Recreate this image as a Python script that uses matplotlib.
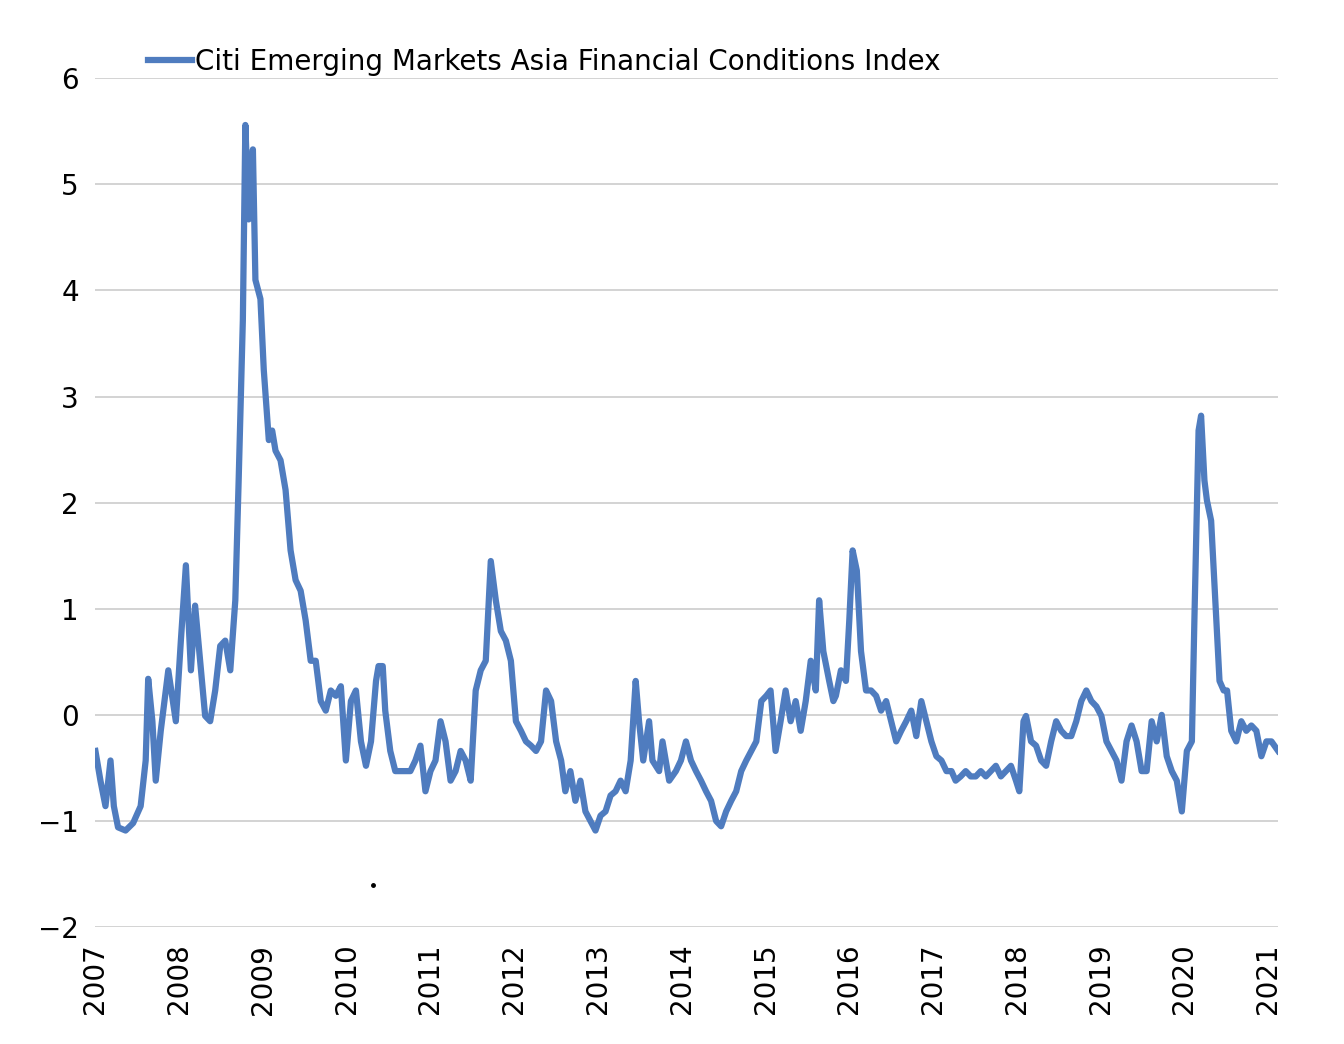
import matplotlib.pyplot as plt

years = [2007.00, 2007.06, 2007.12, 2007.18, 2007.22, 2007.27, 2007.36, 2007.45, 2007.54, 2007.60,
         2007.63, 2007.68, 2007.72, 2007.78, 2007.87, 2007.96, 2008.02, 2008.08, 2008.14, 2008.19,
         2008.25, 2008.31, 2008.37, 2008.43, 2008.49, 2008.55, 2008.61, 2008.67, 2008.71, 2008.76,
         2008.79, 2008.83, 2008.88, 2008.91, 2008.97, 2009.01, 2009.07, 2009.11, 2009.15, 2009.21,
         2009.27, 2009.33, 2009.39, 2009.45, 2009.51, 2009.57, 2009.63, 2009.69, 2009.75, 2009.81,
         2009.87, 2009.93, 2009.99, 2010.05, 2010.11, 2010.17, 2010.23, 2010.29, 2010.35, 2010.38,
         2010.43, 2010.46, 2010.52, 2010.58, 2010.64, 2010.76, 2010.82, 2010.88, 2010.94, 2011.00,
         2011.06, 2011.12, 2011.18, 2011.24, 2011.30, 2011.36, 2011.42, 2011.48, 2011.54, 2011.60,
         2011.66, 2011.72, 2011.78, 2011.84, 2011.90, 2011.96, 2012.02, 2012.08, 2012.14, 2012.20,
         2012.26, 2012.32, 2012.38, 2012.44, 2012.50, 2012.56, 2012.61, 2012.67, 2012.73, 2012.79,
         2012.85, 2012.91, 2012.97, 2013.03, 2013.09, 2013.15, 2013.21, 2013.27, 2013.33, 2013.39,
         2013.45, 2013.49, 2013.54, 2013.61, 2013.65, 2013.73, 2013.77, 2013.85, 2013.93, 2013.99,
         2014.05, 2014.11, 2014.17, 2014.23, 2014.29, 2014.35, 2014.41, 2014.47, 2014.53, 2014.59,
         2014.65, 2014.71, 2014.77, 2014.83, 2014.89, 2014.95, 2015.01, 2015.06, 2015.12, 2015.18,
         2015.24, 2015.30, 2015.36, 2015.42, 2015.48, 2015.54, 2015.60, 2015.64, 2015.69, 2015.76,
         2015.81, 2015.84, 2015.90, 2015.96, 2016.00, 2016.04, 2016.09, 2016.14, 2016.20, 2016.26,
         2016.32, 2016.38, 2016.44, 2016.50, 2016.56, 2016.62, 2016.68, 2016.74, 2016.80, 2016.86,
         2016.92, 2016.98, 2017.04, 2017.10, 2017.16, 2017.22, 2017.27, 2017.33, 2017.39, 2017.45,
         2017.51, 2017.57, 2017.63, 2017.69, 2017.75, 2017.81, 2017.87, 2017.93, 2017.99, 2018.03,
         2018.08, 2018.11, 2018.17, 2018.23, 2018.29, 2018.35, 2018.41, 2018.47, 2018.53, 2018.59,
         2018.65, 2018.71, 2018.77, 2018.83, 2018.89, 2018.95, 2019.01, 2019.07, 2019.13, 2019.19,
         2019.25, 2019.31, 2019.37, 2019.43, 2019.49, 2019.55, 2019.61, 2019.67, 2019.73, 2019.79,
         2019.85, 2019.91, 2019.97, 2020.03, 2020.09, 2020.12, 2020.17, 2020.20, 2020.24, 2020.27,
         2020.32, 2020.37, 2020.42, 2020.47, 2020.51, 2020.56, 2020.62, 2020.68, 2020.74, 2020.80,
         2020.86, 2020.92, 2020.98, 2021.04, 2021.12]
fci = [-0.34, -0.62, -0.86, -0.43, -0.86, -1.06, -1.09, -1.02, -0.86, -0.43,
       0.34, -0.06, -0.62, -0.15, 0.42, -0.06, 0.70, 1.41, 0.42, 1.03,
       0.51, -0.01, -0.06, 0.23, 0.65, 0.70, 0.42, 1.08, 2.21, 3.72,
       5.56, 4.67, 5.33, 4.10, 3.92, 3.25, 2.59, 2.68, 2.49, 2.40,
       2.12, 1.55, 1.27, 1.17, 0.89, 0.51, 0.51, 0.13, 0.04, 0.23,
       0.18, 0.27, -0.43, 0.13, 0.23, -0.25, -0.48, -0.25, 0.32, 0.46,
       0.46, 0.04, -0.34, -0.53, -0.53, -0.53, -0.43, -0.29, -0.72, -0.53,
       -0.43, -0.06, -0.25, -0.62, -0.53, -0.34, -0.43, -0.62, 0.23, 0.42,
       0.51, 1.45, 1.08, 0.79, 0.70, 0.51, -0.06, -0.15, -0.25, -0.29,
       -0.34, -0.25, 0.23, 0.13, -0.25, -0.43, -0.72, -0.53, -0.81, -0.62,
       -0.91, -1.00, -1.09, -0.95, -0.91, -0.76, -0.72, -0.62, -0.72, -0.43,
       0.32, -0.06, -0.43, -0.06, -0.43, -0.53, -0.25, -0.62, -0.53, -0.43,
       -0.25, -0.43, -0.53, -0.62, -0.72, -0.81, -1.00, -1.05, -0.91, -0.81,
       -0.72, -0.53, -0.43, -0.34, -0.25, 0.13, 0.18, 0.23, -0.34, -0.06,
       0.23, -0.06, 0.13, -0.15, 0.13, 0.51, 0.23, 1.08, 0.60, 0.32,
       0.13, 0.18, 0.42, 0.32, 0.89, 1.55, 1.36, 0.60, 0.23, 0.23,
       0.18, 0.04, 0.13, -0.06, -0.25, -0.15, -0.06, 0.04, -0.20, 0.13,
       -0.06, -0.25, -0.39, -0.43, -0.53, -0.53, -0.62, -0.58, -0.53, -0.58,
       -0.58, -0.53, -0.58, -0.53, -0.48, -0.58, -0.53, -0.48, -0.62, -0.72,
       -0.06, -0.01, -0.25, -0.29, -0.43, -0.48, -0.25, -0.06, -0.15, -0.20,
       -0.20, -0.06, 0.13, 0.23, 0.13, 0.08, -0.01, -0.25, -0.34, -0.43,
       -0.62, -0.25, -0.10, -0.25, -0.53, -0.53, -0.06, -0.25, 0.00, -0.39,
       -0.53, -0.62, -0.91, -0.34, -0.25, 0.89, 2.68, 2.82, 2.21, 2.02,
       1.83, 1.08, 0.32, 0.23, 0.23, -0.15, -0.25, -0.06, -0.15, -0.10,
       -0.15, -0.39, -0.25, -0.25, -0.34]
tick_years = list(range(2007, 2022))

fig = plt.figure(figsize=(13.44, 10.44), dpi=100)
ax = fig.add_axes([0.071, 0.112, 0.880, 0.813])

ax.plot(years, fci, color='#4f7cbf', lw=4.5, label='Citi Emerging Markets Asia Financial Conditions Index')
ax.plot([2010.31], [-1.60], 'k.', ms=5)

ax.set_xlim(2007, 2021.12)
ax.set_ylim(-2, 6)
ax.set_yticks(range(-2, 7))
ax.set_xticks(tick_years)
ax.set_xticklabels([str(y) for y in tick_years], rotation=90)
ax.tick_params(length=0, labelsize=20, pad=12)
ax.grid(axis='y', color='#cccccc', lw=1.2)
ax.set_axisbelow(True)
for s in ax.spines.values():
    s.set_visible(False)

ax.legend(loc='lower left', bbox_to_anchor=(0.035, 0.99), frameon=False, fontsize=20,
          handlelength=1.6, handletextpad=0.1, borderaxespad=0)

plt.savefig('out.png')
plt.close('all')
